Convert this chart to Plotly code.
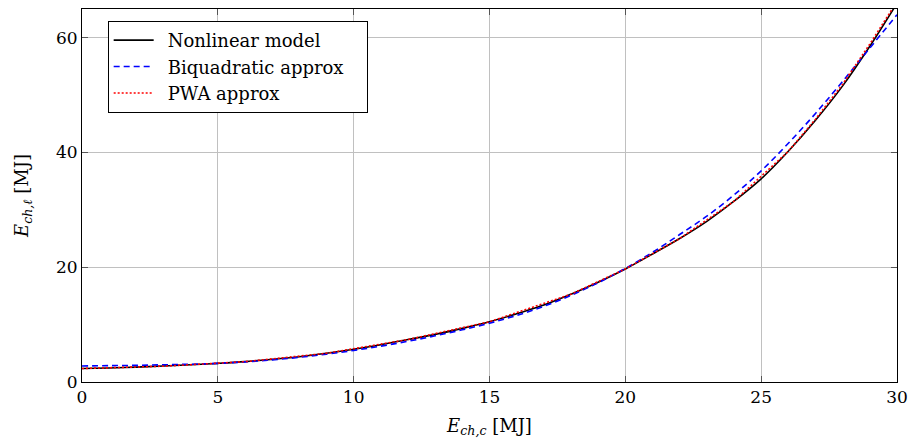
import plotly.graph_objects as go

# Data
x_vals = list(range(0, 31))
nonlinear = [2.35, 2.45, 2.6, 2.8, 3.0, 3.25, 3.55, 3.95, 4.4, 5.0,
             5.7, 6.5, 7.4, 8.3, 9.35, 10.5, 11.9, 13.4, 15.3, 17.4,
             19.7, 22.3, 25.0, 28.0, 31.5, 35.4, 40.2, 45.6, 51.6, 58.5, 66.0]
biquad = [2.8, 2.85, 2.9, 3.0, 3.1, 3.25, 3.5, 3.85, 4.3, 4.85,
          5.5, 6.25, 7.1, 8.05, 9.1, 10.25, 11.6, 13.2, 15.1, 17.3,
          19.8, 22.6, 25.7, 28.9, 32.6, 36.8, 41.6, 46.8, 52.4, 58.2, 64.0]
pwa_x = [0, 3, 6, 9, 12, 15, 18, 20, 22, 24, 26, 27, 28, 29, 30]
pwa_y = [2.35, 2.75, 3.55, 5.0, 7.4, 10.5, 15.3, 19.7, 25.0, 31.5, 40.2, 45.8, 51.9, 58.9, 66.3]
series_names = ["Nonlinear model", "Biquadratic approx", "PWA approx"]

x_ticks = [0, 5, 10, 15, 20, 25, 30]
y_ticks = [0, 20, 40, 60]

FONT = "DejaVu Serif, Liberation Serif, serif"

def lg(name):
    return "\u2002" + name + "\u2003"

fig = go.Figure()
fig.add_trace(go.Scatter(x=x_vals, y=nonlinear, mode="lines", name=lg(series_names[0]),
                         line=dict(color="black", width=1.6), line_shape="spline"))
fig.add_trace(go.Scatter(x=x_vals, y=biquad, mode="lines", name=lg(series_names[1]),
                         line=dict(color="#0000ff", width=1.6, dash="6px,4px"), line_shape="spline"))
fig.add_trace(go.Scatter(x=pwa_x, y=pwa_y, mode="lines", name=lg(series_names[2]),
                         line=dict(color="#ff0000", width=1.6, dash="2px,2px")))

axis_common = dict(
    showgrid=True, gridcolor="#c0c0c0", gridwidth=1,
    showline=True, linecolor="black", linewidth=1, mirror="ticks",
    ticks="inside", ticklen=6, tickcolor="#555555", tickwidth=1,
    zeroline=False, automargin=False, ticklabeloverflow="allow",
    tickfont=dict(family=FONT, size=17, color="black"),
)

fig.update_layout(
    width=908, height=445,
    margin=dict(l=82, r=11, t=9, b=63),
    paper_bgcolor="white", plot_bgcolor="white",
    font=dict(family=FONT, size=18, color="black"),
    xaxis=dict(range=[0, 30], tickvals=x_ticks,
               title=dict(text="<i>E</i><sub><i>ch,c</i></sub> [MJ]", standoff=12,
                          font=dict(family=FONT, size=18)),
               **axis_common),
    yaxis=dict(range=[0, 65], tickvals=y_ticks,
               title=dict(text="<i>E</i><sub><i>ch,ℓ</i></sub> [MJ]", standoff=22,
                          font=dict(family=FONT, size=18)),
               **axis_common),
    legend=dict(x=0.0315, y=0.968, xanchor="left", yanchor="top",
                bgcolor="white", bordercolor="black", borderwidth=1,
                font=dict(family=FONT, size=18), tracegroupgap=0,
                itemwidth=40),
    showlegend=True,
)

fig.write_html("out.html")
